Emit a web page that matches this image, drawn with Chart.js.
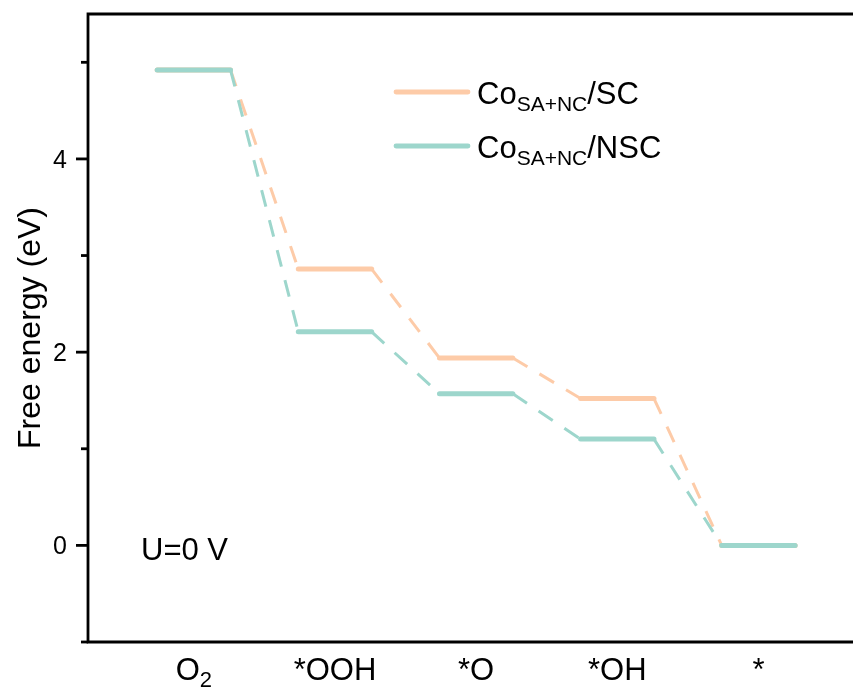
<!DOCTYPE html>
<html>
<head>
<meta charset="utf-8">
<script src="https://cdn.jsdelivr.net/npm/chart.js@4"></script>
<style>
  html, body { margin: 0; padding: 0; background: #fff; }
  #wrap { width: 853px; height: 690px; }
</style>
</head>
<body>
<div id="wrap"><canvas id="c" width="853" height="690"></canvas></div>
<script>
// Reaction intermediates along the 4e- oxygen reduction pathway
const steps = ['O_{2}', '*OOH', '*O', '*OH', '*'];
// Free energy of each intermediate (eV) at U = 0 V
const energySC = [4.92, 2.86, 1.94, 1.52, 0];
const energyNSC = [4.92, 2.21, 1.57, 1.10, 0];
const seriesNames = ['Co_{SA+NC}/SC', 'Co_{SA+NC}/NSC'];
const yLabelled = [0, 2, 4];
const potentialNote = 'U=0 V';
const yTitle = 'Free energy (eV)';

const FONT = '"Liberation Sans", Arial, Helvetica, sans-serif';
const COLORS = ['#FDCBA8', '#9DD6CC'];
const HALF = 0.26;          // half width of each energy level, in step units

// each level becomes a short flat segment centred on its step index
function levelPoints(values) {
  const pts = [];
  values.forEach((v, i) => {
    pts.push({ x: i - HALF, y: v });
    pts.push({ x: i + HALF, y: v });
  });
  return pts;
}

const isFlat = ctx => ctx.p0.parsed.y === ctx.p1.parsed.y;
const segmentStyle = {
  borderWidth: ctx => isFlat(ctx) ? 5 : 3,
  borderDash: ctx => isFlat(ctx) ? [] : [17, 14],
  borderCapStyle: ctx => isFlat(ctx) ? 'round' : 'butt'
};

// text with _{...} subscripts
function parseRich(s) {
  const runs = [];
  const re = /_\{([^}]*)\}/g;
  let last = 0, m;
  while ((m = re.exec(s))) {
    if (m.index > last) runs.push({ t: s.slice(last, m.index), sub: false });
    runs.push({ t: m[1], sub: true });
    last = re.lastIndex;
  }
  if (last < s.length) runs.push({ t: s.slice(last), sub: false });
  return runs;
}
function drawRich(ctx, s, x, y, size, subSize, drop, align) {
  const runs = parseRich(s);
  let w = 0;
  runs.forEach(r => {
    ctx.font = `${r.sub ? subSize : size}px ${FONT}`;
    r.w = ctx.measureText(r.t).width;
    w += r.w;
  });
  let cx = align === 'center' ? x - w / 2 : x;
  ctx.textAlign = 'left';
  ctx.textBaseline = 'alphabetic';
  runs.forEach(r => {
    ctx.font = `${r.sub ? subSize : size}px ${FONT}`;
    ctx.fillText(r.t, cx, r.sub ? y + drop : y);
    cx += r.w;
  });
}

const framePlugin = {
  id: 'frame',
  afterDraw(chart) {
    const { ctx, chartArea: a, scales: { x, y } } = chart;
    ctx.save();
    ctx.strokeStyle = '#000';
    ctx.fillStyle = '#000';
    ctx.lineWidth = 2.8;
    ctx.lineCap = 'butt';
    // left axis, bottom axis, top border
    ctx.beginPath();
    ctx.moveTo(a.left, a.top); ctx.lineTo(a.left, a.bottom);
    ctx.moveTo(a.left - 1.4, a.bottom); ctx.lineTo(a.right, a.bottom);
    ctx.moveTo(a.left - 1.4, a.top); ctx.lineTo(a.right, a.top);
    ctx.stroke();

    // y ticks: labelled majors, short minors
    for (let v = Math.ceil(y.min); v <= y.max; v++) {
      const py = y.getPixelForValue(v);
      const major = yLabelled.includes(v);
      const len = major ? 12 : 7;
      ctx.beginPath();
      ctx.moveTo(a.left - len, py); ctx.lineTo(a.left, py);
      ctx.stroke();
      if (major) {
        ctx.font = `25px ${FONT}`;
        ctx.textAlign = 'right';
        ctx.textBaseline = 'alphabetic';
        ctx.fillText(String(v), a.left - 21, py + 9);
      }
    }

    // y title
    ctx.save();
    ctx.translate(39.5, (a.top + a.bottom) / 2);
    ctx.rotate(-Math.PI / 2);
    ctx.font = `32px ${FONT}`;
    ctx.textAlign = 'center';
    ctx.textBaseline = 'alphabetic';
    ctx.fillText(yTitle, 0, 0);
    ctx.restore();

    // step labels
    steps.forEach((s, i) => {
      drawRich(ctx, s, x.getPixelForValue(i), 680, 31, 22, 7, 'center');
    });

    // potential note
    ctx.font = `31px ${FONT}`;
    ctx.textAlign = 'left';
    ctx.textBaseline = 'alphabetic';
    ctx.fillText(potentialNote, 141, 560);

    // legend
    seriesNames.forEach((name, k) => {
      const ly = 92 + k * 54;
      ctx.strokeStyle = COLORS[k];
      ctx.lineWidth = 4.8;
      ctx.lineCap = 'round';
      ctx.beginPath();
      ctx.moveTo(396, ly); ctx.lineTo(468, ly);
      ctx.stroke();
      ctx.fillStyle = '#000';
      drawRich(ctx, name, 477, ly + 11.5, 31, 21, 7.5, 'left');
    });
    ctx.restore();
  }
};

new Chart(document.getElementById('c'), {
  type: 'line',
  data: {
    datasets: [
      {
        label: 'SC',
        data: levelPoints(energySC),
        borderColor: COLORS[0],
        borderWidth: 5,
        pointRadius: 0,
        tension: 0,
        order: 1,
        segment: segmentStyle
      },
      {
        label: 'NSC',
        data: levelPoints(energyNSC),
        borderColor: COLORS[1],
        borderWidth: 5,
        pointRadius: 0,
        tension: 0,
        order: 0,
        segment: segmentStyle
      }
    ]
  },
  options: {
    responsive: false,
    animation: false,
    layout: { padding: { left: 88, top: 14, right: 0, bottom: 48 } },
    scales: {
      x: { type: 'linear', min: -0.75, max: 4.67, display: false },
      y: { type: 'linear', min: -1, max: 5.5, display: false }
    },
    plugins: { legend: { display: false }, tooltip: { enabled: false } }
  },
  plugins: [framePlugin]
});
</script>
</body>
</html>
